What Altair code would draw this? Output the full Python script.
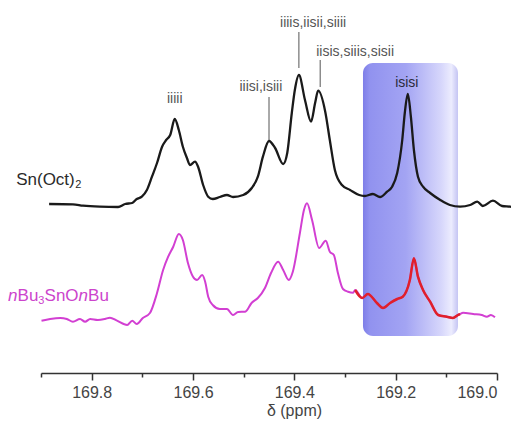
import altair as alt
import pandas as pd

# --- Sn(Oct)2 spectrum (black) ---
sn_ppm = [169.884, 169.837, 169.817, 169.784, 169.748, 169.734, 169.720, 169.711, 169.701, 169.691,
          169.681, 169.671, 169.661, 169.653, 169.645, 169.636, 169.628, 169.620, 169.612, 169.606,
          169.596, 169.590, 169.580, 169.570, 169.561, 169.547, 169.533, 169.521, 169.501, 169.484,
          169.472, 169.462, 169.450, 169.438, 169.422, 169.414, 169.405, 169.399, 169.391, 169.379,
          169.367, 169.359, 169.353, 169.339, 169.330, 169.320, 169.306, 169.290, 169.272, 169.261,
          169.245, 169.231, 169.217, 169.207, 169.197, 169.187, 169.182, 169.176, 169.170, 169.164,
          169.156, 169.146, 169.132, 169.112, 169.093, 169.073, 169.053, 169.039, 169.028, 169.008,
          168.990, 168.974, 168.959]
sn_int = [169, 168.7, 167.3, 166.3, 166, 169, 170, 174, 176.3, 183,
          196.3, 210, 226.3, 233, 238, 254, 243, 226.3, 215, 208,
          211.3, 206.3, 188, 176.3, 174, 176, 178, 176, 178, 185,
          196.3, 216.3, 232, 225, 209, 220, 260, 283, 298, 273,
          251.3, 270, 282.3, 261.3, 233, 203, 188, 183, 178, 177,
          179, 176, 181.3, 186.3, 200, 233, 260, 279, 256.3, 223,
          196.3, 186.3, 180, 173, 168, 166.3, 168, 171.3, 167, 172.3,
          167, 166.3, 165]

# --- nBu3SnOnBu spectrum (magenta) ---
bu_ppm = [169.899, 169.882, 169.862, 169.849, 169.837, 169.823, 169.813, 169.803, 169.788, 169.774,
          169.764, 169.750, 169.730, 169.720, 169.711, 169.699, 169.685, 169.671, 169.659, 169.649,
          169.639, 169.628, 169.620, 169.610, 169.600, 169.592, 169.582, 169.576, 169.570, 169.561,
          169.547, 169.533, 169.521, 169.511, 169.497, 169.484, 169.472, 169.458, 169.446, 169.432,
          169.422, 169.411, 169.403, 169.389, 169.381, 169.375, 169.365, 169.351, 169.338, 169.330,
          169.322, 169.314, 169.304, 169.294, 169.284, 169.280, 169.266, 169.255, 169.237, 169.225,
          169.211, 169.197, 169.186, 169.172, 169.164, 169.156, 169.146, 169.132, 169.116, 169.099,
          169.087, 169.077, 169.073, 169.067, 169.047, 169.030, 169.020, 169.012, 169.004]
bu_int = [52.3, 54, 55, 54, 51.3, 54, 51.3, 54, 53, 54,
          55.3, 52.3, 48, 52.3, 49, 55, 60, 80, 103, 116.3,
          126.3, 139, 133, 110, 96.3, 93, 98, 91.3, 76.3, 68,
          64, 64, 58, 61, 61.3, 70.3, 75, 85, 100, 111.3,
          103, 93, 101.3, 140, 163, 169.7, 153, 125, 132.3, 121.3,
          118, 100, 84, 81.3, 80.3, 83, 75, 79, 70, 65,
          70, 74, 76.3, 93, 114.7, 96.3, 83, 71.3, 58, 56.3,
          55, 58, 59, 60.3, 59, 58, 56.3, 58, 55.7]

# highlighted (red) stretch of the magenta spectrum
red_range = [169.073, 169.280]

# --- peak annotations ---
peak_labels = ["iiiii", "iiisi,isiii", "iiiis,iisii,siiii", "iisis,siiis,sisii", "isisi"]
peak_label_ppm = [169.636, 169.466, 169.363, 169.280, 169.178]
peak_label_int = [274, 286, 350, 321, 290]
leader_ppm = [169.450, 169.391, 169.349]
leader_top = [276, 341, 313]
leader_bottom = [233, 305, 286]

# --- series names (anchor positions) ---
series_name_ppm = [169.949, 169.965]
series_name_int = [193, 77]

# --- highlight box ---
box_ppm = [169.2645, 169.077]
box_int = [37, 310]

axis_values = [169.9, 169.8, 169.7, 169.6, 169.5, 169.4, 169.3, 169.2, 169.1, 169.0]

FONT = "Liberation Sans"

sn_df = pd.DataFrame({"ppm": sn_ppm, "intensity": sn_int})
bu_df = pd.DataFrame({"ppm": bu_ppm, "intensity": bu_int})
lab_df = pd.DataFrame({"label": peak_labels, "ppm": peak_label_ppm, "intensity": peak_label_int})
lead_df = pd.DataFrame({"ppm": leader_ppm, "top": leader_top, "bottom": leader_bottom})
box_df = pd.DataFrame({"ppm": [box_ppm[0]], "ppm2": [box_ppm[1]], "intensity": [box_int[0]], "intensity2": [box_int[1]]})
name_sn = pd.DataFrame({"ppm": [series_name_ppm[0]], "intensity": [series_name_int[0]]})
name_bu = pd.DataFrame({"ppm": [series_name_ppm[1]], "intensity": [series_name_int[1]]})

xs = alt.Scale(domain=[169.0, 169.9], reverse=True, nice=False, zero=False)
ys = alt.Scale(domain=[0, 363], nice=False, zero=False)

x_axis = alt.Axis(
    values=axis_values,
    labelExpr="round(datum.value*10) % 2 == 0 ? format(datum.value, '.1f') : ''",
    tickSize={"condition": {"test": "round(datum.value*10) % 2 == 0", "value": 7}, "value": 4},
    grid=False,
    domainColor="#333333", domainWidth=1.5,
    tickColor="#333333", tickWidth=1.5,
    labelFont=FONT, labelFontSize=16, labelColor="#444444", labelPadding=4,
    title="\u03b4 (ppm)", titleFont=FONT, titleFontSize=16, titleFontWeight="normal",
    titleColor="#444444", titleX=253, titleY=37, titleAlign="center", titleBaseline="middle",
)

X = alt.X("ppm:Q", scale=xs, axis=x_axis)
Y = alt.Y("intensity:Q", scale=ys, axis=None)

grad = alt.Gradient(
    gradient="linear",
    stops=[
        alt.GradientStop(color="#7e7ee8", offset=0),
        alt.GradientStop(color="#9192ef", offset=0.07),
        alt.GradientStop(color="#a3a4f3", offset=0.45),
        alt.GradientStop(color="#d6d6fb", offset=0.82),
        alt.GradientStop(color="#ececfe", offset=0.93),
        alt.GradientStop(color="#c4c4f3", offset=1),
    ],
    x1=0, x2=1, y1=0, y2=0,
)

box = alt.Chart(box_df).mark_rect(cornerRadius=10, fill=grad).encode(
    x=X, x2="ppm2:Q", y=Y, y2="intensity2:Q",
)

sn_line = alt.Chart(sn_df).mark_line(color="#1a1a1a", strokeWidth=2.3, strokeJoin="round",
                                     interpolate="monotone").encode(x=X, y=Y, order="ppm:Q")

bu_line = alt.Chart(bu_df).mark_line(color="#d23fd2", strokeWidth=2, strokeJoin="round",
                                     interpolate="monotone").encode(x=X, y=Y, order="ppm:Q")

red_line = alt.Chart(bu_df).transform_filter(
    (alt.datum.ppm >= red_range[0]) & (alt.datum.ppm <= red_range[1])
).mark_line(color="#e0202a", strokeWidth=2.5, strokeJoin="round",
            interpolate="monotone").encode(x=X, y=Y, order="ppm:Q")

leaders = alt.Chart(lead_df).mark_rule(color="#555555", strokeWidth=1).encode(
    x=X,
    y=alt.Y("top:Q", scale=ys, axis=None), y2="bottom:Q",
)

labels = alt.Chart(lab_df).mark_text(font=FONT, fontSize=14, align="center", baseline="middle").encode(
    x=X, y=Y,
    text="label:N",
    color=alt.condition(alt.datum.label == "isisi", alt.value("#2b2b3a"), alt.value("#555555")),
)


def piece(df, txt, dx, color, size=17, style="normal", dy=0):
    return alt.Chart(df).mark_text(font=FONT, fontSize=size, fontStyle=style, align="left",
                                   baseline="middle", color=color, dx=dx, dy=dy).encode(
        x=X, y=Y, text=alt.value(txt))


SN_C = "#2a2a2a"
BU_C = "#cc44cc"
names = [
    piece(name_sn, "Sn(Oct)", 0, SN_C),
    piece(name_sn, "2", 59, SN_C, size=11, dy=5),
    piece(name_bu, "n", 0, BU_C, style="italic"),
    piece(name_bu, "Bu", 9.5, BU_C),
    piece(name_bu, "3", 30.3, BU_C, size=11, dy=5),
    piece(name_bu, "SnO", 36.5, BU_C),
    piece(name_bu, "n", 70.5, BU_C, style="italic"),
    piece(name_bu, "Bu", 80, BU_C),
]

chart = alt.layer(box, sn_line, bu_line, red_line, leaders, labels, *names).properties(
    width=456, height=363,
    autosize=alt.AutoSizeParams(type="none"),
    padding={"left": 33, "top": 2, "right": 14, "bottom": 46},
    background="white",
).configure_view(stroke=None)

chart.save("out.html", embed_options={"renderer": "svg", "actions": False})
